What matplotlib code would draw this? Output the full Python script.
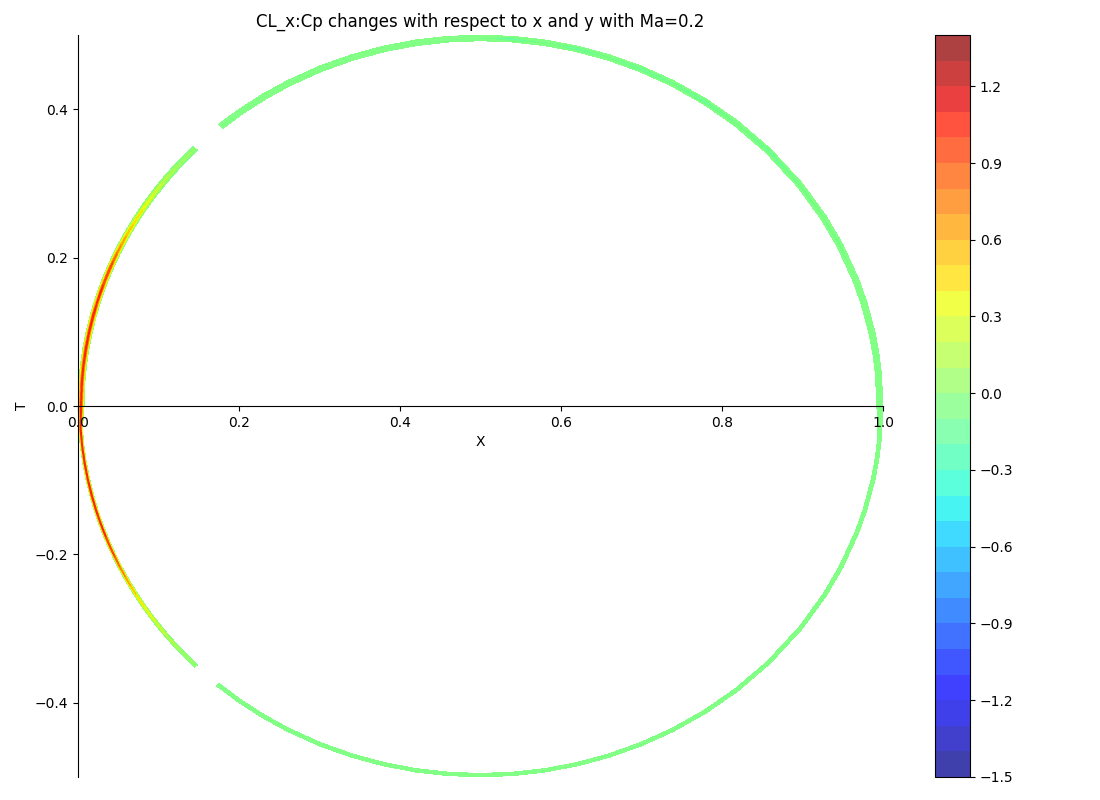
import numpy as np
import matplotlib.pyplot as plt

# Cp sampled along the surface (x stations), upper and lower side
x_upper = [0.0, 0.001, 0.003, 0.006, 0.01, 0.015, 0.02, 0.025, 0.03, 0.035, 0.04,
           0.045, 0.05, 0.055, 0.06, 0.07, 0.08, 0.09, 0.10, 0.11, 0.12, 0.13, 0.143,
           0.155, 0.165, 0.175, 0.2, 0.23, 0.26, 0.3, 0.34, 0.38, 0.42, 0.46, 0.5,
           0.54, 0.58, 0.62, 0.66, 0.7, 0.74, 0.78, 0.82, 0.86, 0.9, 0.93, 0.95,
           0.97, 0.98, 0.99, 0.995, 0.998, 1.0]
cp_upper = [1.05, 1.1, 1.05, 1.1, 1.05, 1.1, 1.0, 1.05, 0.95, 1.0, 0.9,
            0.8, 0.7, 0.62, 0.55, 0.45, 0.38, 0.3, 0.22, 0.15, 0.1, 0.05, 0.02,
            np.nan, np.nan, -0.05, -0.06, -0.07, -0.06, -0.08, -0.07, -0.09, -0.08, -0.1, -0.09,
            -0.15, -0.1, -0.16, -0.11, -0.15, -0.12, -0.16, -0.11, -0.15, -0.12, -0.1, -0.11,
            -0.09, -0.08, -0.07, -0.06, -0.06, -0.06]

x_lower = [0.0, 0.001, 0.003, 0.006, 0.01, 0.015, 0.02, 0.025, 0.03, 0.035, 0.04,
           0.05, 0.06, 0.07, 0.08, 0.09, 0.10, 0.11, 0.12, 0.13, 0.145,
           0.155, 0.165, 0.172, 0.2, 0.23, 0.26, 0.3, 0.34, 0.38, 0.42, 0.46, 0.5,
           0.54, 0.58, 0.62, 0.66, 0.7, 0.74, 0.78, 0.82, 0.86, 0.9, 0.93, 0.95,
           0.97, 0.98, 0.99, 0.995, 0.998, 1.0]
cp_lower = [1.05, 1.1, 1.05, 1.1, 1.05, 1.1, 1.05, 1.0, 1.05, 0.95, 0.95,
            0.8, 0.65, 0.5, 0.4, 0.32, 0.25, 0.18, 0.12, 0.07, 0.03,
            np.nan, np.nan, -0.05, -0.07, -0.07, -0.07, -0.08, -0.08, -0.08, -0.08, -0.08, -0.08,
            -0.08, -0.08, -0.08, -0.08, -0.08, -0.08, -0.08, -0.08, -0.08, -0.08, -0.08, -0.08,
            -0.08, -0.07, -0.07, -0.06, -0.06, -0.06]

cp_edge = -0.05       # value at the inner / outer edge of the band
levels = np.linspace(-1.5, 1.4, 30)

# build a thin ring grid following the surface (upper TE -> LE -> lower TE)
xu = np.array(x_upper)[::-1]
xl = np.array(x_lower)[1:]
phi = np.concatenate([np.arccos(2 * xu - 1), -np.arccos(2 * xl - 1)])
cp_mid = np.concatenate([np.array(cp_upper)[::-1], np.array(cp_lower)[1:]])

r_out = np.full(phi.shape, 0.5)
r_in = np.where(phi >= 0, 0.4925, 0.4955)
r_mid = 0.5 * (r_in + r_out)
radii = [r_in, r_mid, r_out]

X = np.array([0.5 + r * np.cos(phi) for r in radii])
Y = np.array([r * np.sin(phi) for r in radii])
edge = np.where(np.isnan(cp_mid), np.nan, cp_edge)
Z = np.ma.masked_invalid(np.array([edge, cp_mid, edge]))

fig = plt.figure(figsize=(11, 8), dpi=100)
ax = fig.add_axes([0.0709, 0.029, 0.7318, 0.927])
cax = fig.add_axes([0.85, 0.029, 0.032, 0.927])

cs = ax.contourf(X, Y, Z, levels=levels, cmap='jet', alpha=0.75)
ax.contourf(X, Y, Z, levels=levels, cmap='jet', alpha=0.75)
fig.colorbar(cs, cax=cax)

ax.set_xlim(0, 1)
ax.set_ylim(-0.5, 0.5)
ax.spines['top'].set_visible(False)
ax.spines['right'].set_visible(False)
ax.spines['bottom'].set_position(('data', 0))
ax.set_xlabel('X')
ax.set_ylabel('T')
ax.set_title('CL_x:Cp changes with respect to x and y with Ma=0.2')

plt.savefig('out.png')
